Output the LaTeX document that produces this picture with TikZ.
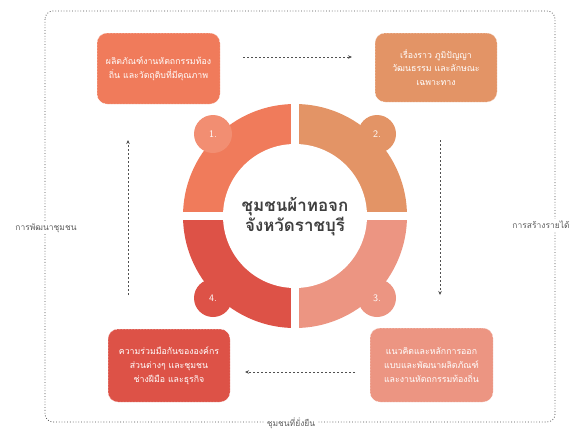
\documentclass[tikz,border=0pt]{standalone}
\usepackage{fontspec}
\newfontfamily\thai[Script=Thai]{Loma}
\usetikzlibrary{arrows.meta}
\definecolor{cA}{HTML}{F07B5B}
\definecolor{cAk}{HTML}{F28E72}
\definecolor{cB}{HTML}{E39466}
\definecolor{cC}{HTML}{EC9582}
\definecolor{cD}{HTML}{DD5247}
\definecolor{txtdark}{HTML}{3F3F3F}
\definecolor{linegray}{HTML}{505050}
\definecolor{lblgray}{HTML}{5E5E5E}
\tikzset{
  infobox/.style={rounded corners=10bp, draw=white, densely dotted, line width=0.5bp,
    text=white, align=center, inner sep=0pt,
    font=\thai\fontsize{8.8}{14}\selectfont},
  flowarrow/.style={draw=linegray, line width=0.7bp, dash pattern=on 2bp off 2bp,
    -{Stealth[length=4bp,width=3.5bp]}},
  framelbl/.style={fill=white, text=lblgray, inner sep=2bp,
    font=\thai\fontsize{8.5}{10}\selectfont},
  knob/.style={circle, minimum size=38bp, inner sep=0pt, text=white,
    font=\sffamily\fontsize{10}{12}\selectfont},
}
\begin{document}
\begin{tikzpicture}[x=1bp,y=-1bp]
\useasboundingbox (0,0) rectangle (574,430);
\fill[white] (0,0) rectangle (574,430);

% outer dotted frame
\draw[linegray, dotted, line width=0.8bp, rounded corners=8bp] (45,11) rectangle (555,422);
\node[framelbl] (lblL) at (46,228) {การพัฒนาชุมชน};
\node[framelbl] (lblR) at (541,225) {การสร้างรายได้};
\node[framelbl] (lblB) at (291,423) {ชุมชนที่ยั่งยืน};

% boxes
\node[infobox, fill=cA, minimum width=123bp, minimum height=71bp] (b1) at (158.5,68.5)
  {ผลิตภัณฑ์งานหัตถกรรมท้อง\\ถิ่น และวัตถุดิบที่มีคุณภาพ};
\node[infobox, fill=cB, minimum width=122bp, minimum height=69bp] (b2) at (436,67.5)
  {เรื่องราว ภูมิปัญญา\\วัฒนธรรม และลักษณะ\\เฉพาะทาง};
\node[infobox, fill=cC, minimum width=123bp, minimum height=74bp] (b3) at (431.5,365)
  {แนวคิดและหลักการออก\\แบบและพัฒนาผลิตภัณฑ์\\และงานหัตถกรรมท้องถิ่น};
\node[infobox, fill=cD, minimum width=122bp, minimum height=73bp] (b4) at (169,365.5)
  {ความร่วมมือกันขององค์กร\\ส่วนต่างๆ และชุมชน\\ช่างฝีมือ และธุรกิจ};

% ring
\coordinate (ctr) at (295,216);
\fill[cA] (ctr) -- ++(180:112) arc[start angle=180, end angle=270, radius=112] -- cycle;
\fill[cB] (ctr) -- ++(270:112) arc[start angle=270, end angle=360, radius=112] -- cycle;
\fill[cC] (ctr) -- ++(0:112) arc[start angle=0, end angle=90, radius=112] -- cycle;
\fill[cD] (ctr) -- ++(90:112) arc[start angle=90, end angle=180, radius=112] -- cycle;
\node[knob, fill=cAk] (k1) at (213,134) {1.};
\node[knob, fill=cB] (k2) at (377,134) {2.};
\node[knob, fill=cC] (k3) at (377,298) {3.};
\node[knob, fill=cD] (k4) at (213,298) {4.};
\fill[white] (ctr) circle[radius=72];
\draw[white, line width=8bp] (295,90) -- (295,342);
\draw[white, line width=8bp] (169,216) -- (421,216);
\node[text=txtdark, align=center, font=\thai\fontsize{17}{20}\selectfont\bfseries] (title) at (295,217)
  {ชุมชนผ้าทอจก\\จังหวัดราชบุรี};

% arrows
\coordinate (t1) at (243,57);
\coordinate (t2) at (352,57);
\coordinate (r1) at (440,140);
\coordinate (r2) at (440,295);
\coordinate (u1) at (355,372);
\coordinate (u2) at (245,372);
\coordinate (l1) at (128,295);
\coordinate (l2) at (128,140);
\draw[flowarrow] (t1) -- (t2);
\draw[flowarrow] (r1) -- (r2);
\draw[flowarrow] (u1) -- (u2);
\draw[flowarrow] (l1) -- (l2);
\end{tikzpicture}
\end{document}
